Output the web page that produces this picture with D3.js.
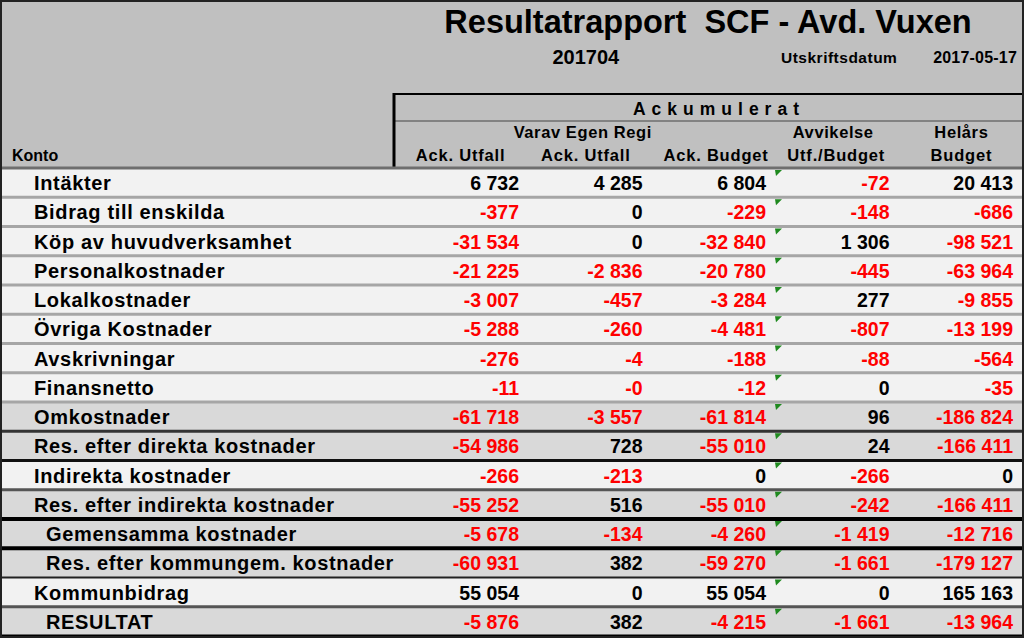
<!DOCTYPE html>
<html><head><meta charset="utf-8">
<script src="https://cdn.jsdelivr.net/npm/d3@7"></script>
<style>html,body{margin:0;padding:0;background:#fff;}svg{display:block;}text{white-space:pre;}</style>
</head><body>
<script>
// ---- data ----
const title = "Resultatrapport  SCF - Avd. Vuxen";
const period = "201704";
const printLabel = "Utskriftsdatum";
const printDate = "2017-05-17";
const columns = ["ackUtfall", "egenUtfall", "ackBudget", "avvikelse", "helars"];
const headerLine1 = ["", "Varav Egen Regi", "", "Avvikelse", "Helårs"];
const headerLine2 = ["Ack. Utfall", "Ack. Utfall", "Ack. Budget", "Utf./Budget", "Budget"];
const groupLabel = "Ackumulerat";
const konto = [
  "Intäkter", "Bidrag till enskilda", "Köp av huvudverksamhet", "Personalkostnader",
  "Lokalkostnader", "Övriga Kostnader", "Avskrivningar", "Finansnetto", "Omkostnader",
  "Res. efter direkta kostnader", "Indirekta kostnader", "Res. efter indirekta kostnader",
  "Gemensamma kostnader", "Res. efter kommungem. kostnader", "Kommunbidrag", "RESULTAT"
];
const rowKind = ["d","d","d","d","d","d","d","d","s","s","d","s","s","s","d","s"];
const indented = [false,false,false,false,false,false,false,false,false,false,false,false,true,true,false,true];
const ackUtfall = [6732, -377, -31534, -21225, -3007, -5288, -276, -11, -61718, -54986, -266, -55252, -5678, -60931, 55054, -5876];
const egenUtfall = [4285, 0, 0, -2836, -457, -260, -4, -0, -3557, 728, -213, 516, -134, 382, 0, 382];
const ackBudget = [6804, -229, -32840, -20780, -3284, -4481, -188, -12, -61814, -55010, 0, -55010, -4260, -59270, 55054, -4215];
const avvikelse = [-72, -148, 1306, -445, 277, -807, -88, 0, 96, 24, -266, -242, -1419, -1661, 0, -1661];
const helars = [20413, -686, -98521, -63964, -9855, -13199, -564, -35, -186824, -166411, 0, -166411, -12716, -179127, 165163, -13964];
const series = {ackUtfall, egenUtfall, ackBudget, avvikelse, helars};

// ---- styles ----
const W = 1024, H = 638;
const FONT = "'Liberation Sans', Arial, sans-serif";
const headerFill = "#c0c0c0", lightFill = "#f2f2f2", sumFill = "#d9d9d9";
const sepStyle = [ // top separator of each row: [color, width]
  ["#6e6e6e",3],["#a6a6a6",3],["#a6a6a6",3],["#a6a6a6",3],["#a6a6a6",3],["#a6a6a6",3],["#a6a6a6",3],["#a6a6a6",3],
  ["#a6a6a6",3],["#333",3],["#111",3],["#555",3],["#000",4],["#000",4],["#222",2],["#555",3]
];

const svg = d3.select("body").append("svg").attr("width", W).attr("height", H);

const tableTop = 168, tableBottom = 636;
const y = d3.scaleBand().domain(d3.range(konto.length)).range([tableTop, tableBottom]);
const xBand = d3.scaleBand().domain(columns).range([398, W]);
const xRight = d3.scalePoint().domain(columns).range([519, 1013]);
const fmtLoc = d3.formatLocale({decimal: ",", thousands: " ", grouping: [3], currency: ["", ""], minus: "-"});
const fmt = fmtLoc.format(",d");
const isNeg = v => v < 0 || Object.is(v, -0);
const fmtVal = v => (Object.is(v, -0) ? "-0" : fmt(v));

// header background
svg.append("rect").attr("x", 0).attr("y", 0).attr("width", W).attr("height", tableTop).attr("fill", headerFill);

// title texts
const colsMid = (xBand.range()[0] - 4 + xBand.range()[1]) / 2;
svg.append("text").attr("x", colsMid - 1).attr("y", 33).attr("text-anchor", "middle")
  .attr("font-family", FONT).attr("font-weight", "bold").attr("font-size", 32.5).attr("fill", "#000").text(title);
svg.append("text").attr("x", xBand("egenUtfall") + xBand.bandwidth() / 2).attr("y", 64).attr("text-anchor", "middle")
  .attr("font-family", FONT).attr("font-weight", "bold").attr("font-size", 20).text(period);
svg.append("text").attr("x", xBand("avvikelse") + xBand.bandwidth() / 2 + 3).attr("y", 63).attr("text-anchor", "middle")
  .attr("font-family", FONT).attr("font-weight", "bold").attr("font-size", 15.5).attr("letter-spacing", 0.5).text(printLabel);
svg.append("text").attr("x", xRight("helars") + 4).attr("y", 63).attr("text-anchor", "end")
  .attr("font-family", FONT).attr("font-weight", "bold").attr("font-size", 16).attr("letter-spacing", 0.2).text(printDate);

// Ackumulerat box
const boxLeft = 394, boxTop = 94, subLine = 121;
svg.append("line").attr("x1", boxLeft).attr("x2", W).attr("y1", boxTop).attr("y2", boxTop).attr("stroke", "#000").attr("stroke-width", 2);
svg.append("line").attr("x1", boxLeft).attr("x2", W).attr("y1", subLine).attr("y2", subLine).attr("stroke", "#444").attr("stroke-width", 1);
svg.append("line").attr("x1", boxLeft).attr("x2", boxLeft).attr("y1", boxTop - 1).attr("y2", tableTop).attr("stroke", "#000").attr("stroke-width", 3);
svg.append("text").attr("x", colsMid + 10).attr("y", 115).attr("text-anchor", "middle")
  .attr("font-family", FONT).attr("font-weight", "bold").attr("font-size", 17.5).attr("letter-spacing", 6).text(groupLabel);

svg.append("g").selectAll("text").data(columns).join("text")
  .attr("x", (c, i) => xBand(c) + xBand.bandwidth() / 2 + (i === 3 ? -3 : (i === 1 ? -3 : 0)))
  .attr("y", 138).attr("text-anchor", "middle")
  .attr("font-family", FONT).attr("font-weight", "bold").attr("font-size", 16.5).attr("letter-spacing", 0.6)
  .text((c, i) => headerLine1[i]);
svg.append("g").selectAll("text").data(columns).join("text")
  .attr("x", (c, i) => xBand(c) + xBand.bandwidth() / 2 + (i === 2 ? 5 : 0))
  .attr("y", 161).attr("text-anchor", "middle")
  .attr("font-family", FONT).attr("font-weight", "bold").attr("font-size", 16.5).attr("letter-spacing", 0.8)
  .text((c, i) => headerLine2[i]);
svg.append("text").attr("x", 12).attr("y", 161)
  .attr("font-family", FONT).attr("font-weight", "bold").attr("font-size", 16).text("Konto");

// rows
const rows = svg.append("g").selectAll("g").data(konto).join("g")
  .attr("transform", (d, i) => `translate(0,${y(i)})`);
rows.append("rect").attr("x", 0).attr("y", 0).attr("width", W).attr("height", y.bandwidth())
  .attr("fill", (d, i) => rowKind[i] === "s" ? sumFill : lightFill);
rows.append("line").attr("x1", 0).attr("x2", W).attr("y1", 0).attr("y2", 0)
  .attr("stroke", (d, i) => sepStyle[i][0]).attr("stroke-width", (d, i) => sepStyle[i][1]);
rows.append("text").attr("x", (d, i) => indented[i] ? 46 : 34).attr("y", 22)
  .attr("font-family", FONT).attr("font-weight", "bold").attr("font-size", 20).attr("letter-spacing", 0.65)
  .attr("fill", "#000").text(d => d);
rows.append("path")
  .attr("d", () => { const x0 = xRight("ackBudget") + 9; return `M${x0},2L${x0 + 7},2L${x0 + 1},8Z`; })
  .attr("fill", "#1f8a1f");
columns.forEach(c => {
  rows.append("text").attr("x", xRight(c)).attr("y", 22).attr("text-anchor", "end")
    .attr("font-family", FONT).attr("font-weight", "bold").attr("font-size", 19.5)
    .attr("fill", (d, i) => isNeg(series[c][i]) ? "#ff0000" : "#000")
    .text((d, i) => fmtVal(series[c][i]));
});

// bottom line and outer border
svg.append("line").attr("x1", 0).attr("x2", W).attr("y1", tableBottom).attr("y2", tableBottom).attr("stroke", "#000").attr("stroke-width", 3);
svg.append("rect").attr("x", 1).attr("y", 1).attr("width", W - 2).attr("height", H - 2)
  .attr("fill", "none").attr("stroke", "#222").attr("stroke-width", 2);
</script>
</body></html>
